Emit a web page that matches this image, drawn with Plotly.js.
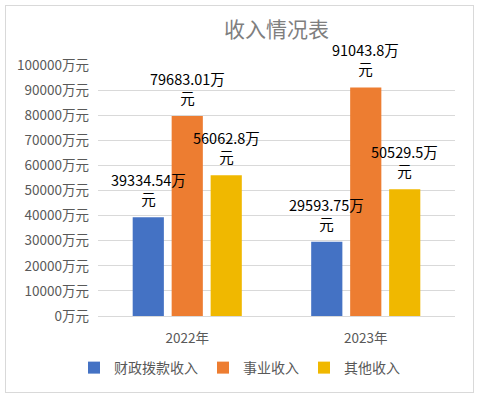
<!DOCTYPE html>
<html>
<head>
<meta charset="utf-8">
<script src="https://cdn.plot.ly/plotly-3.0.1.min.js"></script>
<style>
html,body{margin:0;padding:0;background:#fff;}
#wrap{position:relative;width:479px;height:397px;}
#chart{width:479px;height:397px;}
#frame{position:absolute;left:5px;top:5px;width:467px;height:386px;border:1px solid #d9d9d9;pointer-events:none;}
</style>
</head>
<body>
<div id="wrap"><div id="chart"></div><div id="frame"></div></div>
<script>
const categories = ['2022年', '2023年'];
const seriesNames = ['财政拨款收入', '事业收入', '其他收入'];
const fiscal = [39334.54, 29593.75];
const business = [79683.01, 91043.8];
const other = [56062.8, 50529.5];
const colors = ['#4472c4', '#ed7d31', '#f0b800'];
const yTicks = [0,10000,20000,30000,40000,50000,60000,70000,80000,90000,100000];
const yTickText = yTicks.map(v => v + '万元');

const font = "'Noto Sans CJK SC', 'Noto Sans', sans-serif";
const seriesVals = [fiscal, business, other];
const traces = seriesVals.map((vals, i) => ({
  type: 'bar',
  name: seriesNames[i],
  x: categories,
  y: vals,
  marker: {color: colors[i]},
  hoverinfo: 'none'
}));

const barStep = 39;
const annotations = [];
seriesVals.forEach((vals, i) => {
  vals.forEach((v, j) => {
    annotations.push({
      x: categories[j], y: v, xref: 'x', yref: 'y',
      text: v + '万<br>元',
      showarrow: false,
      xanchor: 'center', yanchor: 'bottom',
      xshift: (i - 1) * barStep, yshift: 6,
      font: {family: font, size: 14.5, color: '#000'}
    });
  });
});

const layout = {
  width: 479, height: 397,
  margin: {l: 98, r: 24, t: 65, b: 81, autoexpand: false},
  paper_bgcolor: '#fff', plot_bgcolor: '#fff',
  title: {text: '收入情况表', font: {family: font, size: 21, color: '#7f7f7f'}, x: 0.5, xref: 'paper', xanchor: 'center', y: 0.925, yanchor: 'middle'},
  barmode: 'group',
  bargap: 0.345,
  bargroupgap: 0.2,
  font: {family: font, color: '#595959'},
  xaxis: {
    showgrid: false, showline: true, linecolor: '#d9d9d9', linewidth: 1,
    tickfont: {family: font, size: 13.5, color: '#595959'},
    ticks: '', ticklabelstandoff: 10, fixedrange: true, automargin: false
  },
  yaxis: {
    range: [0, 100000], tickvals: yTicks, ticktext: yTickText,
    showgrid: true, gridcolor: '#d9d9d9', gridwidth: 1, zeroline: false,
    showline: false, ticks: '', ticklen: 0, ticklabelstandoff: 8,
    tickfont: {family: font, size: 13.5, color: '#595959'},
    fixedrange: true, automargin: false
  },
  annotations: annotations,
  showlegend: true,
  legend: {
    orientation: 'h', xref: 'container', x: 0.5, xanchor: 'center',
    yref: 'container', y: 0.073, yanchor: 'middle',
    font: {family: font, size: 14, color: '#595959'},
    itemwidth: 30, traceorder: 'normal'
  }
};
Plotly.newPlot('chart', traces, layout, {staticPlot: true, displayModeBar: false});
</script>
</body>
</html>
